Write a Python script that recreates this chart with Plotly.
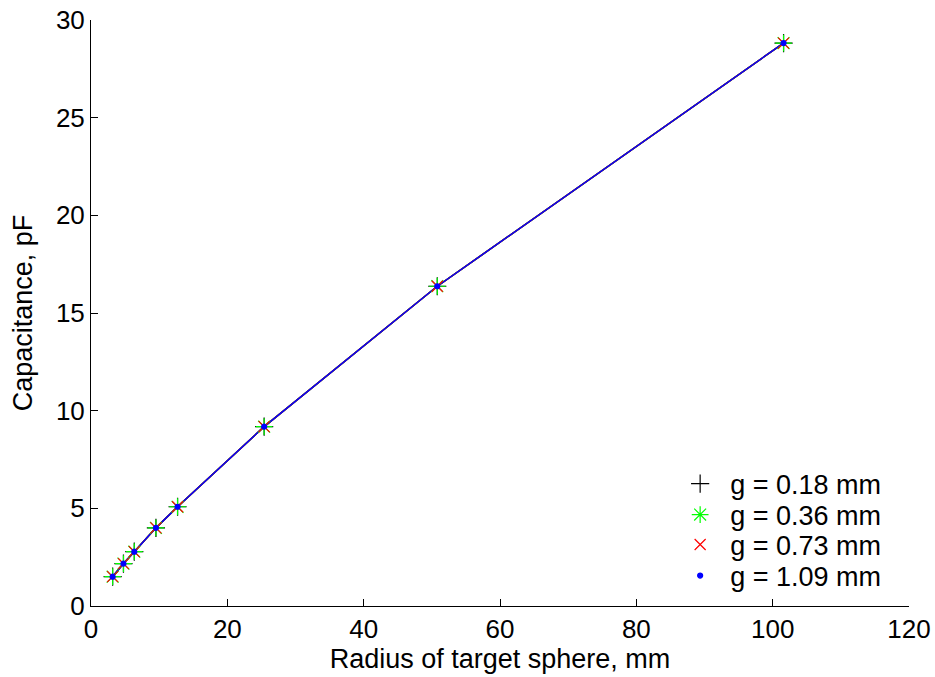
import plotly.graph_objects as go

radius_mm = [3.175, 4.7625, 6.35, 9.525, 12.7, 25.4, 50.8, 101.6]
cap_g018 = [1.50, 2.17, 2.78, 4.00, 5.08, 9.18, 16.37, 28.82]
cap_g036 = [1.50, 2.17, 2.78, 4.00, 5.08, 9.18, 16.37, 28.82]
cap_g073 = [1.50, 2.17, 2.78, 4.00, 5.08, 9.18, 16.37, 28.82]
cap_g109 = [1.50, 2.17, 2.78, 4.00, 5.08, 9.18, 16.37, 28.82]
legend_rows_y = [0.2082, 0.1553, 0.1041, 0.0512]

series = [
    ("g = 0.18 mm", cap_g018, "black", "cross-thin-open", 13),
    ("g = 0.36 mm", cap_g036, "#00ff00", "asterisk-open", 14),
    ("g = 0.73 mm", cap_g073, "red", "x-thin-open", 11),
    ("g = 1.09 mm", cap_g109, "blue", "circle", 5),
]

FONT = "Liberation Sans, Arial, sans-serif"
FS_TICK = 26
FS_TEXT = 27

fig = go.Figure()
# fitted lines (not in legend)
for name, ys, col, sym, sz in series:
    fig.add_trace(go.Scatter(x=radius_mm, y=ys, mode="lines",
                             line=dict(color=col, width=1.5),
                             showlegend=False, hoverinfo="skip"))
legend_layouts = {}
for i, (name, ys, col, sym, sz) in enumerate(series):
    lname = "legend" if i == 0 else f"legend{i+1}"
    fig.add_trace(go.Scatter(x=radius_mm, y=ys, mode="markers", name=name,
                             legend=lname,
                             marker=dict(symbol=sym, size=sz, color=col,
                                         line=dict(color=col, width=1.2))))
    legend_layouts[lname] = dict(x=0.708, y=legend_rows_y[i],
                                 xanchor="left", yanchor="middle",
                                 bgcolor="rgba(0,0,0,0)", itemwidth=50,
                                 font=dict(family=FONT, size=FS_TEXT))

fig.update_layout(
    width=935, height=677,
    margin=dict(l=91, r=26, t=20, b=71, autoexpand=False),
    plot_bgcolor="white", paper_bgcolor="white",
    font=dict(family=FONT, size=FS_TICK, color="black"),
    showlegend=True,
    xaxis=dict(range=[0, 120], tickvals=[0, 20, 40, 60, 80, 100, 120],
               ticks="inside", ticklen=7, tickcolor="black",
               tickfont=dict(size=FS_TICK), automargin=False,
               showline=True, linecolor="black", linewidth=1,
               showgrid=False, zeroline=False,
               title=dict(text="Radius of target sphere, mm", standoff=4,
                          font=dict(size=FS_TEXT))),
    yaxis=dict(range=[0, 30], tickvals=[0, 5, 10, 15, 20, 25, 30],
               ticks="inside", ticklen=7, tickcolor="black",
               tickfont=dict(size=FS_TICK), automargin=False,
               showline=True, linecolor="black", linewidth=1,
               showgrid=False, zeroline=False,
               title=dict(text="Capacitance, pF", standoff=15,
                          font=dict(size=FS_TEXT))),
    **legend_layouts,
)

fig.write_html("out.html")
